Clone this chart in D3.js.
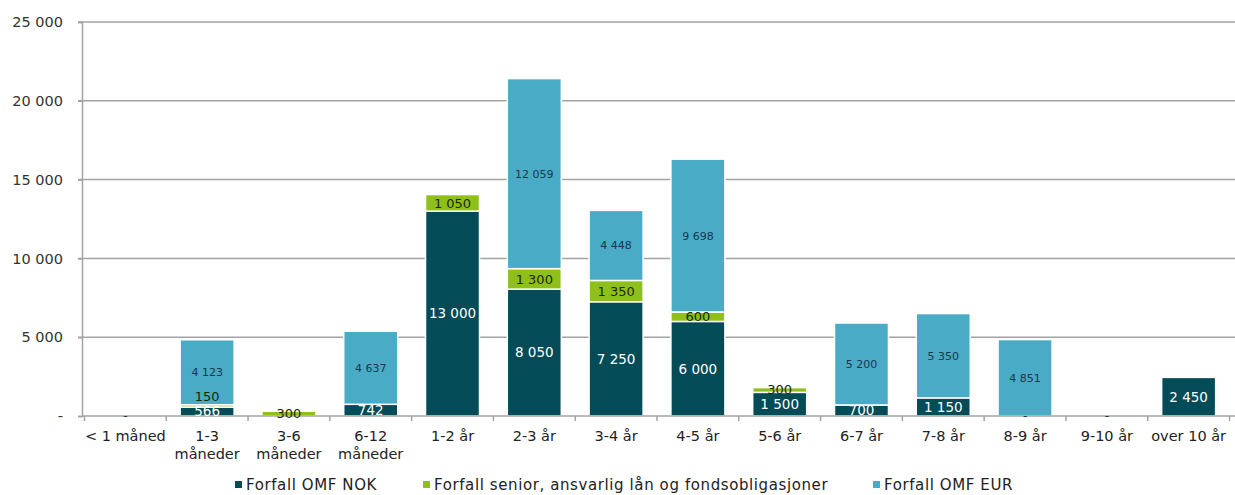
<!DOCTYPE html>
<html><head><meta charset="utf-8">
<script src="https://cdn.jsdelivr.net/npm/d3@7"></script>
<style>
html,body{margin:0;padding:0;background:#fff;}
svg{display:block;font-family:"DejaVu Sans",Verdana,sans-serif;}
</style></head>
<body>
<svg id="c" width="1235" height="495"></svg>
<script>
const categories = ["< 1 måned","1-3|måneder","3-6|måneder","6-12|måneder","1-2 år","2-3 år","3-4 år","4-5 år","5-6 år","6-7 år","7-8 år","8-9 år","9-10 år","over 10 år"];
const seriesNames = ["Forfall OMF NOK","Forfall senior, ansvarlig lån og fondsobligasjoner","Forfall OMF EUR"];
const omfNok = [0,566,0,742,13000,8050,7250,6000,1500,700,1150,0,0,2450];
const senior = [0,150,300,0,1050,1300,1350,600,300,0,0,0,0,0];
const omfEur = [0,4123,0,4637,0,12059,4448,9698,0,5200,5350,4851,0,0];
const yTicks = [0,5000,10000,15000,20000,25000];
const colors = ["#034b57","#8fbf1a","#4aabc6"];
const labelColors = ["#ffffff","#1a2a00","#16384d"];
const labelSizes = [13.5,13,11];

(function(){
const svg = d3.select("#c");
const mLeft = 82, mRight = 1232, mTop = 22, mBottom = 416;
const x = d3.scaleBand().domain(categories).range([mLeft,mRight]).paddingInner(0.34).paddingOuter(0.2);
const y = d3.scaleLinear().domain([0,25000]).range([mBottom,mTop]);
const fmt = v => v === 0 ? "-" : d3.format(",")(v).replace(/,/g," ");

svg.append("g").selectAll("line").data(yTicks.filter(d=>d>0)).join("line")
  .attr("x1",mLeft-4).attr("x2",mRight+4).attr("y1",d=>y(d)).attr("y2",d=>y(d))
  .attr("stroke","#a3a3a3").attr("stroke-width",1.5);

const ya = svg.append("g").attr("transform",`translate(${mLeft},0)`)
  .call(d3.axisLeft(y).tickValues(yTicks).tickFormat(fmt).tickSize(4).tickPadding(15));
ya.select(".domain").attr("stroke","#a3a3a3").attr("stroke-width",1.5);
ya.selectAll(".tick line").attr("stroke","#a3a3a3").attr("stroke-width",1.5);
ya.selectAll("text").attr("font-size",14.5).attr("fill","#333").attr("font-family","DejaVu Sans");

const rows = categories.map((c,i)=>({cat:c, s0:omfNok[i], s1:senior[i], s2:omfEur[i]}));
const stack = d3.stack().keys(["s0","s1","s2"])(rows);

const gBars = svg.append("g");
stack.forEach((layer,k)=>{
  gBars.append("g").selectAll("rect").data(layer.filter(d=>d[1]-d[0]>0)).join("rect")
    .attr("x",d=>x(d.data.cat)).attr("width",x.bandwidth())
    .attr("y",d=>y(d[1])).attr("height",d=>y(d[0])-y(d[1]))
    .attr("fill",colors[k]).attr("stroke","#ffffff").attr("stroke-width",1.5);
});

const xa = svg.append("g").attr("transform",`translate(0,${mBottom})`);
xa.append("line").attr("x1",mLeft).attr("x2",mRight+4).attr("y1",0).attr("y2",0).attr("stroke","#a3a3a3").attr("stroke-width",1.5);
const step = x.step();
const start = x(categories[0]) - (step - x.bandwidth())/2;
const bounds = d3.range(categories.length+1).map(i=>start + i*step);
xa.selectAll("line.tk").data(bounds).join("line").attr("class","tk")
  .attr("x1",d=>d).attr("x2",d=>d).attr("y1",0).attr("y2",5)
  .attr("stroke","#a3a3a3").attr("stroke-width",1.5);
const xt = xa.selectAll("text").data(categories).join("text")
  .attr("text-anchor","middle").attr("font-size",14.5).attr("fill","#222")
  .attr("transform",d=>`translate(${x(d)+x.bandwidth()/2},0)`);
xt.each(function(d){
  const parts = d.split("|");
  d3.select(this).selectAll("tspan").data(parts).join("tspan")
    .attr("x",0).attr("y",(p,i)=>25+i*18).text(p=>p);
});

// labels with simple collision avoidance within each bar
const labels = [];
rows.forEach((r,i)=>{
  let prev = null;
  stack.forEach((layer,k)=>{
    const d = layer[i];
    const v = d[1]-d[0];
    if (v <= 0) return;
    let cy = (y(d[0])+y(d[1]))/2;
    if (prev !== null && prev - cy < 15) cy = prev - 15;
    prev = cy;
    labels.push({cat:r.cat, k, v, cy});
  });
});
svg.append("g").selectAll("text").data(labels).join("text")
  .attr("x",d=>x(d.cat)+x.bandwidth()/2).attr("y",d=>d.cy)
  .attr("dy","0.36em").attr("text-anchor","middle")
  .attr("font-size",d=>labelSizes[d.k]).attr("fill",d=>labelColors[d.k])
  .text(d=>fmt(d.v));
svg.append("g").selectAll("text").data(rows.filter(r=>r.s0===0 && r.s1===0)).join("text")
  .attr("x",d=>x(d.cat)+x.bandwidth()/2).attr("y",mBottom).attr("dy","0.36em")
  .attr("text-anchor","middle").attr("font-size",12).attr("fill","#16384d").text("-");

const lg = svg.append("g").attr("transform","translate(0,485)");
const legX = [235,423,873];
seriesNames.forEach((n,i)=>{
  lg.append("rect").attr("x",legX[i]).attr("y",-4).attr("width",7).attr("height",7).attr("fill",colors[i]);
  lg.append("text").attr("x",legX[i]+11).attr("y",0).attr("dy","0.36em").attr("font-size",15)
    .attr("letter-spacing",0.6).attr("fill","#222").text(n);
});
})();
</script>
</body></html>
